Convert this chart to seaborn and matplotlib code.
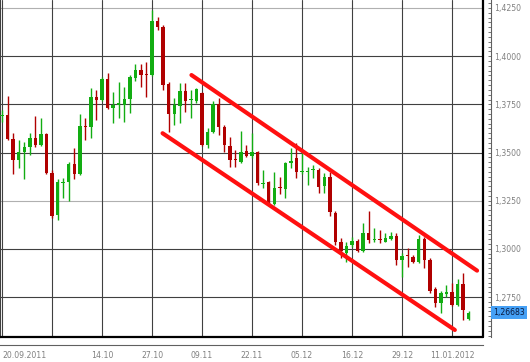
import numpy as np
import pandas as pd
import seaborn as sns
import matplotlib
matplotlib.use("Agg")
import matplotlib.pyplot as plt
from matplotlib.ticker import MultipleLocator, FuncFormatter

# Daily EUR/USD candles, 20.09.2011 - 16.01.2012 (trading day index 0..84)
opens = [1.3688, 1.3697, 1.3570, 1.3461, 1.3503, 1.3529, 1.3575, 1.3539, 1.3596, 1.3394,
         1.3176, 1.3342, 1.3347, 1.3440, 1.3388, 1.3638, 1.3632, 1.3788, 1.3773, 1.3882,
         1.3731, 1.3747, 1.3747, 1.3778, 1.3887, 1.3928, 1.3907, 1.3902, 1.4183, 1.4151,
         1.3856, 1.3700, 1.3741, 1.3819, 1.3770, 1.3767, 1.3809, 1.3539, 1.3606, 1.3752,
         1.3632, 1.3534, 1.3466, 1.3451, 1.3508, 1.3482, 1.3503, 1.3337, 1.3347, 1.3233,
         1.3319, 1.3311, 1.3446, 1.3470, 1.3399, 1.3399, 1.3409, 1.3409, 1.3326, 1.3373,
         1.3186, 1.3036, 1.2978, 1.3020, 1.3041, 1.2989, 1.3082, 1.3046, 1.3051, 1.3036,
         1.3051, 1.3067, 1.2942, 1.2968, 1.2958, 1.2932, 1.3051, 1.2942, 1.2792, 1.2719,
         1.2766, 1.2776, 1.2709, 1.2818, 1.2636]
highs = [1.3720, 1.3793, 1.3601, 1.3565, 1.3555, 1.3601, 1.3690, 1.3679, 1.3601, 1.3409,
         1.3362, 1.3368, 1.3451, 1.3523, 1.3700, 1.3679, 1.3835, 1.3824, 1.3892, 1.3913,
         1.3814, 1.3866, 1.3840, 1.3902, 1.3959, 1.3959, 1.3970, 1.4240, 1.4203, 1.4162,
         1.3866, 1.3783, 1.3861, 1.3861, 1.3824, 1.3835, 1.3814, 1.3627, 1.3767, 1.3783,
         1.3643, 1.3580, 1.3513, 1.3612, 1.3539, 1.3601, 1.3508, 1.3409, 1.3352, 1.3399,
         1.3373, 1.3451, 1.3523, 1.3549, 1.3513, 1.3425, 1.3435, 1.3420, 1.3394, 1.3399,
         1.3196, 1.3057, 1.3036, 1.3062, 1.3051, 1.3134, 1.3196, 1.3108, 1.3098, 1.3082,
         1.3087, 1.3082, 1.2978, 1.3004, 1.2968, 1.3072, 1.3062, 1.2953, 1.2802, 1.2781,
         1.2812, 1.2823, 1.2843, 1.2875, 1.2678]
lows = [1.3660, 1.3565, 1.3388, 1.3420, 1.3362, 1.3487, 1.3529, 1.3534, 1.3388, 1.3160,
        1.3150, 1.3264, 1.3248, 1.3362, 1.3383, 1.3565, 1.3575, 1.3669, 1.3767, 1.3726,
        1.3653, 1.3679, 1.3658, 1.3705, 1.3871, 1.3840, 1.3788, 1.3897, 1.4136, 1.3824,
        1.3606, 1.3643, 1.3653, 1.3710, 1.3679, 1.3757, 1.3534, 1.3523, 1.3601, 1.3591,
        1.3503, 1.3425, 1.3425, 1.3446, 1.3477, 1.3472, 1.3332, 1.3316, 1.3228, 1.3228,
        1.3285, 1.3264, 1.3420, 1.3368, 1.3388, 1.3332, 1.3368, 1.3290, 1.3290, 1.3171,
        1.3020, 1.2953, 1.2932, 1.3010, 1.2984, 1.2984, 1.3031, 1.3036, 1.3031, 1.3036,
        1.3046, 1.2916, 1.2854, 1.2906, 1.2927, 1.2927, 1.2901, 1.2771, 1.2698, 1.2667,
        1.2750, 1.2703, 1.2703, 1.2631, 1.2631]
closes = [1.3695, 1.3570, 1.3461, 1.3503, 1.3529, 1.3575, 1.3539, 1.3596, 1.3394, 1.3171,
          1.3347, 1.3347, 1.3440, 1.3388, 1.3638, 1.3633, 1.3788, 1.3773, 1.3882, 1.3731,
          1.3747, 1.3757, 1.3778, 1.3892, 1.3928, 1.3902, 1.3902, 1.4183, 1.4151, 1.3850,
          1.3700, 1.3747, 1.3819, 1.3767, 1.3778, 1.3830, 1.3539, 1.3606, 1.3752, 1.3632,
          1.3539, 1.3461, 1.3461, 1.3503, 1.3482, 1.3503, 1.3342, 1.3342, 1.3238, 1.3316,
          1.3314, 1.3446, 1.3456, 1.3399, 1.3404, 1.3404, 1.3414, 1.3321, 1.3373, 1.3191,
          1.3036, 1.2989, 1.3015, 1.3041, 1.2989, 1.3082, 1.3046, 1.3051, 1.3046, 1.3057,
          1.3067, 1.2942, 1.2963, 1.2963, 1.2932, 1.3051, 1.2942, 1.2781, 1.2719, 1.2771,
          1.2776, 1.2709, 1.2818, 1.2683, 1.2668]

# x axis: date labels on every 9th trading day
tick_idx = [0, 9, 18, 27, 36, 45, 54, 63, 72, 81]
tick_labels = ["20.09.2011", "", "14.10", "27.10", "09.11", "22.11", "05.12", "16.12", "29.12", "11.01.2012"]

# hand-drawn downtrend channel (trading day index, price)
upper_x = [34.1, 85.5]
upper_y = [1.3902, 1.2887]
lower_x = [28.9, 81.5]
lower_y = [1.3600, 1.2579]

last_price = 1.26683

GREEN = "#12ad12"
RED = "#b00000"

sns.set_theme(style="white")
plt.rcParams["font.family"] = ["DejaVu Sans"]

fig = plt.figure(figsize=(5.30, 3.62), dpi=100)
ax = fig.add_axes([0.0, 25 / 362, 483 / 530, 337 / 362])

df = pd.DataFrame({"open": opens, "high": highs, "low": lows, "close": closes})
df["idx"] = np.arange(len(df))
up = df["close"] >= df["open"]
colors = np.where(up, GREEN, RED)
body_lo = np.minimum(df["open"], df["close"])
body_h = np.maximum((df["close"] - df["open"]).abs(), 0.0006)

# grid
for lvl in np.arange(1.2750, 1.4251, 0.025):
    light = abs(lvl - 1.3250) < 1e-6 or abs(lvl - 1.4250) < 1e-6
    ax.axhline(lvl, color="#b0b0b0" if light else "#404040", lw=0.8, zorder=0)
for t in tick_idx:
    ax.axvline(t, color="#404040", lw=0.8, zorder=0)

# candles
ax.vlines(df["idx"], df["low"], df["high"], colors=colors, lw=1.0, zorder=2)
ax.bar(df["idx"], body_h, bottom=body_lo, width=0.62, color=colors, lw=0, zorder=3)

# channel lines
chan = pd.DataFrame({"x": upper_x + lower_x, "y": upper_y + lower_y,
                     "line": ["upper"] * 2 + ["lower"] * 2})
sns.lineplot(data=chan, x="x", y="y", units="line", estimator=None, sort=False,
             color="#ff1010", lw=3.0, ax=ax, zorder=4, legend=False)

ax.set_xlim(-0.36, 86.57)
ax.set_ylim(1.25425, 1.42915)
ax.set_xlabel("")
ax.set_ylabel("")

# frame of the plot area
ax.plot([1, 1], [0, 1], transform=ax.transAxes, color="black", lw=1.6, clip_on=False, zorder=5)
ax.plot([0, 1], [0, 0], transform=ax.transAxes, color="black", lw=1.6, clip_on=False, zorder=5)
ax.spines["top"].set_visible(False)
ax.spines["left"].set_color("#404040")
ax.spines["left"].set_linewidth(0.8)
for side in ["right", "bottom"]:
    ax.spines[side].set_position(("outward", 6))
    ax.spines[side].set_color("#606060")
    ax.spines[side].set_linewidth(0.8)

# y axis on the right
ax.yaxis.tick_right()
ax.yaxis.set_major_locator(MultipleLocator(0.025))
ax.yaxis.set_minor_locator(MultipleLocator(0.0025))
ax.yaxis.set_major_formatter(FuncFormatter(lambda v, p: f"{v:.4f}".replace(".", ",")))
ax.tick_params(axis="y", which="both", direction="in", length=2.5, width=0.6,
               colors="#606060", labelcolor="#808080", labelsize=5.6, pad=2, left=False)

# x axis
ax.set_xticks(tick_idx)
ax.set_xticklabels(tick_labels)
ax.set_xticks(df["idx"], minor=True)
ax.tick_params(axis="x", which="both", direction="in", length=2.5, width=0.6,
               colors="#606060", labelcolor="#808080", labelsize=5.6, pad=4)
first = ax.get_xticklabels()[0]
first.set_horizontalalignment("left")
first.set_x(-0.36)

# last price marker
ax.text(1.021, last_price, f"{last_price:.5f}".replace(".", ","),
        transform=ax.get_yaxis_transform(), va="center", ha="left",
        fontsize=5.6, color="#0a1a40", zorder=6,
        bbox=dict(boxstyle="square,pad=0.25", fc="#45a0f5", ec="none"))

fig.savefig("out.png", dpi=100)
